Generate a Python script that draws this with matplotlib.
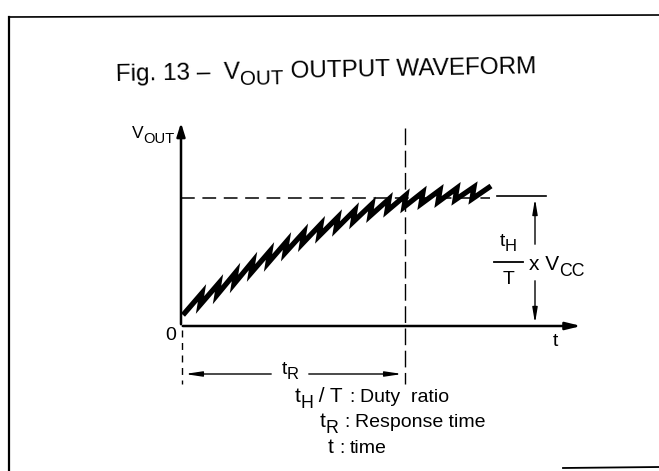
import numpy as np
import matplotlib.pyplot as plt
import matplotlib as mpl

mpl.rcParams['font.family'] = 'Liberation Sans'

# sawtooth waveform (pixel coords, y down)
valley_x = [183, 200, 217, 234, 251, 268, 285, 302, 319, 336, 353, 370, 387, 404, 421, 438, 455, 472]
valley_y = [315, 305, 295, 284, 273, 263, 253, 244, 236, 229, 222, 216, 211, 207, 204, 202, 200, 199]
peak_x = [202, 219, 236, 253, 270, 287, 304, 321, 338, 355, 372, 389, 406, 423, 440, 457, 474, 491]
peak_y = [293, 283, 272, 261, 251, 241, 232, 224, 217, 210, 204, 199, 195, 192, 190, 188, 187, 186]

# symbol legend: (text, is_subscript) pieces
legend_sym = [[('t', 0), ('H', 1), (' / T', 0)], [('t', 0), ('R', 1)], [('t', 0)]]
legend_txt = ['Duty  ratio', 'Response time', 'time']

# interleave valleys and peaks into one polyline
wave_x, wave_y = [], []
for vx, vy, px, py in zip(valley_x, valley_y, peak_x, peak_y):
    wave_x += [vx, px]
    wave_y += [vy, py]

# key levels of the sketch
x0, y0 = 181, 326          # origin
x_tr = 405                 # response time marker
y_ss = 198                 # steady level
x_dim = 535                # dimension arrow
fs = 14

fig = plt.figure(figsize=(6.59, 4.71), dpi=100)
ax = fig.add_axes([0, 0, 1, 1])
ax.set_xlim(0, 659)
ax.set_ylim(471, 0)
ax.axis('off')
renderer = fig.canvas.get_renderer()

k = 'black'


def rich(x, y, parts, size, ha='left', angle=0.0):
    """Draw text pieces with large, lowered subscripts; y is the baseline."""
    items = []
    total = 0.0
    for s, is_sub in parts:
        fsz = size * 0.85 if is_sub else size
        t = ax.text(0, 0, s, fontsize=fsz, ha='left', va='baseline',
                    rotation_mode='anchor')
        w = t.get_window_extent(renderer).width
        t.set_rotation(angle)
        items.append((t, w, is_sub))
        total += w
    start = {'left': 0.0, 'center': total / 2, 'right': total}[ha]
    a = np.deg2rad(angle)
    cum = -start
    for t, w, is_sub in items:
        drop = size * 1.389 * 0.27 if is_sub else 0.0
        px = x + cum * np.cos(a) + drop * np.sin(a)
        py = y - cum * np.sin(a) + drop * np.cos(a)
        t.set_position((px, py))
        cum += w
    return total


# frame of the scanned figure
ax.plot([9, 659], [17, 15], color=k, lw=1.2)
ax.plot([9, 9], [17, 471], color=k, lw=1.6)
ax.plot([563, 659], [468, 467], color=k, lw=1.3)

# title
rich(326, 77, [('Fig. 13 \u2013  V', 0), ('OUT', 1), (' OUTPUT WAVEFORM', 0)], 17.5,
     ha='center', angle=1.1)

# axes with arrows
ax.annotate('', xy=(x0, 120), xytext=(x0, y0 + 1),
            arrowprops=dict(arrowstyle='-|>,head_length=0.8,head_width=0.25', color=k, lw=1.8))
ax.annotate('', xy=(584, y0), xytext=(x0 - 1, y0),
            arrowprops=dict(arrowstyle='-|>,head_length=0.9,head_width=0.22', color=k, lw=1.8))
rich(132, 138, [('V', 0), ('OUT', 1)], fs - 1.5)
ax.text(171, 335, '0', fontsize=fs, ha='center', va='center')
ax.text(555, 342, 't', fontsize=fs, ha='center', va='center')

# dashed guides
ax.plot([x0, 490], [y_ss, y_ss], color=k, lw=1.1, dashes=(9, 5))
ax.plot([x_tr, x_tr], [128, 384], color=k, lw=1.0, dashes=(12, 4))
ax.plot([x0 + 1, x0 + 1], [330, 384], color=k, lw=1.0, dashes=(5, 4))
ax.plot([497, 546], [y_ss - 2, y_ss - 2], color=k, lw=1.2)

# waveform
ax.plot(wave_x, wave_y, color=k, lw=3.8, solid_joinstyle='miter', solid_capstyle='butt')

# response time dimension
ax.annotate('', xy=(x0 + 1, 374), xytext=(274, 374),
            arrowprops=dict(arrowstyle='-|>,head_length=1.0,head_width=0.15', color=k, lw=1.0))
ax.annotate('', xy=(x_tr, 374), xytext=(306, 374),
            arrowprops=dict(arrowstyle='-|>,head_length=1.0,head_width=0.15', color=k, lw=1.0))
rich(290, 374, [('t', 0), ('R', 1)], fs, ha='center')

# duty-ratio amplitude dimension
ax.annotate('', xy=(x_dim, y_ss - 2), xytext=(x_dim, 247),
            arrowprops=dict(arrowstyle='-|>,head_length=0.9,head_width=0.15', color=k, lw=1.0))
ax.annotate('', xy=(x_dim, y0), xytext=(x_dim, 278),
            arrowprops=dict(arrowstyle='-|>,head_length=0.9,head_width=0.15', color=k, lw=1.0))
rich(508, 246, [('t', 0), ('H', 1)], fs, ha='center')
ax.plot([494, 523], [262, 262], color=k, lw=1.3)
ax.text(509, 280, 'T', fontsize=fs, ha='center', va='center')
rich(529, 270, [('x V', 0), ('CC', 1)], fs + 1)

# legend of symbols (colons drift a little with the scan tilt)
colon_x = [352, 347, 342]
rows_y = [402, 427, 453]
for sym, txt, cx, ry in zip(legend_sym, legend_txt, colon_x, rows_y):
    rich(cx - 9, ry, sym, fs + 1, ha='right')
    ax.text(cx, ry, ':', fontsize=fs, ha='center', va='baseline')
    ax.text(cx + 8, ry, txt, fontsize=fs, ha='left', va='baseline')

fig.savefig('out.png', dpi=100)
